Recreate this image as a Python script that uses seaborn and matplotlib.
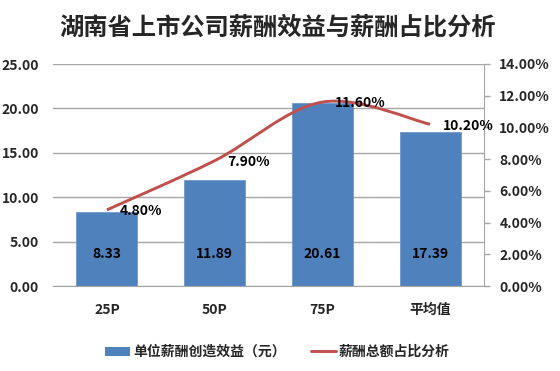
import matplotlib
matplotlib.use('Agg')
import matplotlib.pyplot as plt
from matplotlib.path import Path
from matplotlib.patches import PathPatch
from matplotlib.lines import Line2D
from matplotlib.patches import Patch
import matplotlib.ticker as mticker
import numpy as np
import pandas as pd
import seaborn as sns

# data
categories = ['25P', '50P', '75P', '平均值']
benefit = [8.33, 11.89, 20.61, 17.39]       # 单位薪酬创造效益（元）
share_pct = [4.80, 7.90, 11.60, 10.20]      # 薪酬总额占比分析 (%)

bar_name = '单位薪酬创造效益（元）'
line_name = '薪酬总额占比分析'

bar_color = '#4F81BD'
line_color = '#C0504D'
grid_color = '#A6A6A6'

sns.set_style('white')
plt.rcParams['font.family'] = ['Noto Sans CJK SC', 'DejaVu Sans']
plt.rcParams['font.weight'] = 'bold'

df = pd.DataFrame({'cat': categories, 'benefit': benefit})

fig = plt.figure(figsize=(5.6, 3.71), dpi=100)
ax = fig.add_axes([53 / 560, 1 - 286 / 371, (484 - 53) / 560, (286 - 64) / 371])

sns.barplot(data=df, x='cat', y='benefit', color=bar_color, width=0.566,
            saturation=1, edgecolor='#6F98CC', linewidth=0.6, ax=ax, zorder=2)

ax.set_xlim(-0.5, 3.5)
ax.set_ylim(0, 25)
ax.set_yticks(np.arange(0, 25.01, 5))
ax.yaxis.set_major_formatter(mticker.FormatStrFormatter('%.2f'))
ax.grid(axis='y', color=grid_color, linewidth=1, zorder=0)
ax.set_axisbelow(True)
for s in ['left', 'top', 'right']:
    ax.spines[s].set_visible(False)
ax.spines['bottom'].set_color(grid_color)
ax.set_xlabel('')
ax.set_ylabel('')
ax.tick_params(axis='x', length=0, pad=12, labelsize=10)
ax.tick_params(axis='y', length=0, pad=10, labelsize=10)

# value labels near the bar base
for i, v in enumerate(benefit):
    ax.annotate(f'{v:.2f}', xy=(i, 0), xytext=(0, 23), textcoords='offset points',
                ha='center', va='center', fontsize=10, fontweight='bold', color='black')

# secondary axis for the share line
ax2 = ax.twinx()
ax2.set_ylim(0, 14)
ax2.set_yticks(np.arange(0, 14.01, 2))
ax2.yaxis.set_major_formatter(mticker.FuncFormatter(lambda v, p: f'{v:.2f}%'))
for s in ['left', 'top', 'bottom']:
    ax2.spines[s].set_visible(False)
ax2.spines['right'].set_color(grid_color)
ax2.tick_params(axis='y', length=4, width=1, color=grid_color, pad=7, labelsize=10)
ax2.grid(False)

# smoothed line (Catmull-Rom style, like Excel smoothing) through the data points
xs = np.arange(len(share_pct), dtype=float)
ys = np.array(share_pct, dtype=float)
pts = np.column_stack([xs, ys])
verts = [pts[0]]
codes = [Path.MOVETO]
for i in range(len(pts) - 1):
    p0 = pts[i - 1] if i > 0 else pts[i]
    p1 = pts[i]
    p2 = pts[i + 1]
    p3 = pts[i + 2] if i + 2 < len(pts) else pts[i + 1]
    c1 = p1 + (p2 - p0) / 6
    c2 = p2 - (p3 - p1) / 6
    verts += [c1, c2, p2]
    codes += [Path.CURVE4] * 3
ax2.add_patch(PathPatch(Path(verts, codes), facecolor='none', edgecolor=line_color,
                        linewidth=2.1, capstyle='butt', zorder=3))

for i, v in enumerate(share_pct):
    ax2.annotate(f'{v:.2f}%', xy=(i, v), xytext=(9, -1), textcoords='offset points',
                 ha='left', va='center', fontsize=10, fontweight='bold', color='black')

fig.text(0.495, 1 - 28 / 371, '湖南省上市公司薪酬效益与薪酬占比分析', ha='center', va='center',
         fontsize=17.5, fontweight='bold')

handles = [Patch(facecolor=bar_color, edgecolor='none'),
           Line2D([0], [0], color=line_color, linewidth=2.1)]
fig.legend(handles, [bar_name, line_name], loc='center', bbox_to_anchor=(0.495, 1 - 352 / 371),
           ncol=2, frameon=False, fontsize=10, handlelength=1.8, handleheight=0.6,
           handletextpad=0.2, columnspacing=1.8)

fig.savefig('out.png', dpi=100)
